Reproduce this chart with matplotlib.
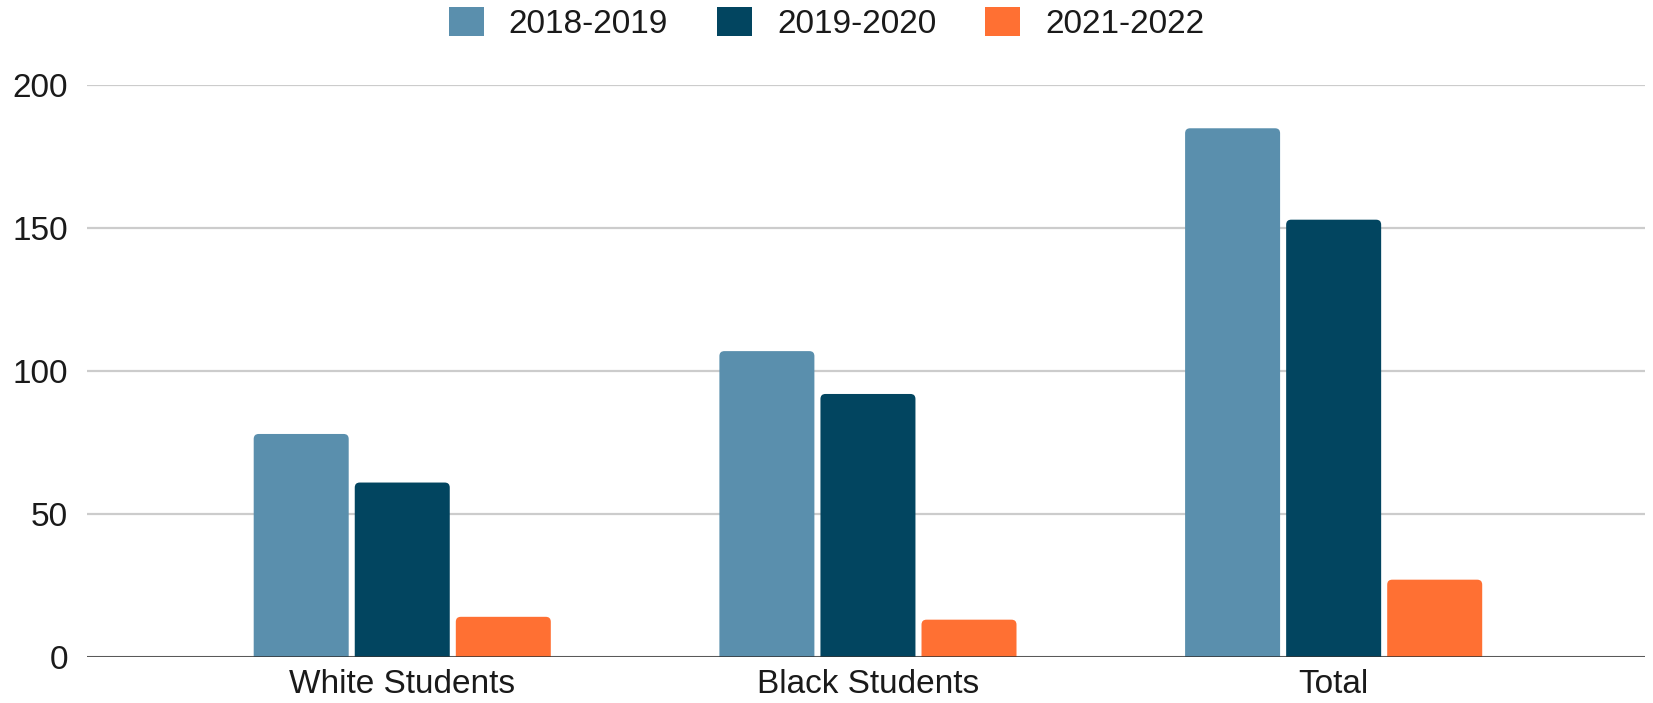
import numpy as np
import matplotlib
matplotlib.use('Agg')
import matplotlib.pyplot as plt
from matplotlib.patches import Patch, FancyBboxPatch

plt.rcParams['font.family'] = ['Liberation Sans', 'DejaVu Sans']

# --- dane ---
categories = ['White Students', 'Black Students', 'Total']
series_names = ['2018-2019', '2019-2020', '2021-2022']
vals_2018 = [78, 107, 185]
vals_2019 = [61, 92, 153]
vals_2021 = [14, 13, 27]
colors = ['#5A8FAD', '#024560', '#FF7033']

fig = plt.figure(figsize=(16.53, 7.03), dpi=100)
ax = fig.add_axes([0.0529, 0.0657, 0.9421, 0.8128])

ax.set_xlim(-0.676, 2.668)
ax.set_ylim(0, 200)

x = np.arange(len(categories))
width = 0.204
step = 0.217
series = [vals_2018, vals_2019, vals_2021]

# proporcja osi (jednostki y na piksel / jednostki x na piksel) dla zaokrąglonych rogów
fig.canvas.draw()
bb = ax.get_window_extent()
x_per_px = (ax.get_xlim()[1] - ax.get_xlim()[0]) / bb.width
y_per_px = (ax.get_ylim()[1] - ax.get_ylim()[0]) / bb.height
aspect = y_per_px / x_per_px
r = 5 * x_per_px

for i, (vals, c) in enumerate(zip(series, colors)):
    bars = ax.bar(x + (i - 1) * step, vals, width, color=c, zorder=3)
    for b in bars:
        b.set_visible(False)
        # dolne rogi schowane pod osią (przycięte)
        p = FancyBboxPatch((b.get_x(), -5), b.get_width(), b.get_height() + 5,
                           boxstyle=f'round,pad=0,rounding_size={r}',
                           mutation_aspect=aspect, facecolor=c, edgecolor='none', zorder=3)
        ax.add_patch(p)

ax.set_yticks([0, 50, 100, 150, 200])
ax.set_xticks(x)
ax.set_xticklabels(categories)
ax.grid(axis='y', color='#CCCCCC', linewidth=1.6, zorder=0)
ax.axhline(0, color='#333333', linewidth=1.8, zorder=4)
ax.tick_params(axis='both', length=0, labelsize=24, colors='#1a1a1a')
ax.tick_params(axis='y', pad=14)
ax.tick_params(axis='x', pad=9)
for s in ax.spines.values():
    s.set_visible(False)

# legenda u góry
handles = [Patch(facecolor=c, edgecolor='none', label=n) for c, n in zip(colors, series_names)]
fig.legend(handles=handles, loc='center', bbox_to_anchor=(0.5, 0.967), ncol=3,
           frameon=False, fontsize=24, handlelength=1.05, handleheight=1.0,
           handletextpad=0.75, columnspacing=1.47, labelcolor='#1a1a1a')

fig.savefig('out.png', dpi=100)
